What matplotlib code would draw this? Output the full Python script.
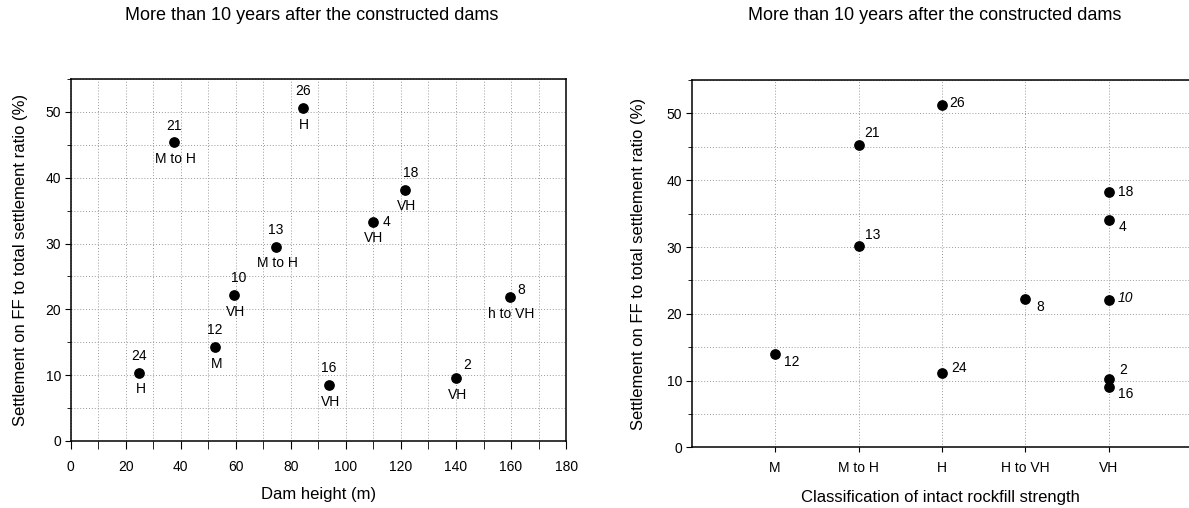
import matplotlib
matplotlib.use("Agg")
import matplotlib.pyplot as plt
from matplotlib.ticker import MultipleLocator

plt.rcParams['font.family'] = ['Liberation Sans', 'DejaVu Sans']

# left panel: dam height vs ratio
dam_ids = ["24", "21", "12", "10", "13", "26", "16", "4", "18", "2", "8"]
dam_height = [24.9, 37.4, 52.5, 59.5, 74.6, 84.3, 93.8, 109.7, 121.6, 140.0, 159.7]
ratio_left = [10.4, 45.4, 14.3, 22.2, 29.5, 50.6, 8.5, 33.3, 38.2, 9.5, 21.9]
strength_left = ["H", "M to H", "M", "VH", "M to H", "H", "VH", "VH", "VH", "VH", "h to VH"]

# right panel: strength class vs ratio
categories = ["M", "M to H", "H", "H to VH", "VH"]
right_ids = ["12", "21", "13", "26", "24", "8", "18", "4", "10", "2", "16"]
right_class = ["M", "M to H", "M to H", "H", "H", "H to VH", "VH", "VH", "VH", "VH", "VH"]
ratio_right = [14.05, 45.2, 30.1, 51.2, 11.2, 22.2, 38.2, 34.1, 22.1, 10.3, 9.1]

TITLE = "More than 10 years after the constructed dams"
YLABEL = "Settlement on FF to total settlement ratio (%)"

fig = plt.figure(figsize=(11.89, 5.08), dpi=100)
ax1 = fig.add_axes([0.0595, 0.1319, 0.4166, 0.7126])
ax2 = fig.add_axes([0.5817, 0.1191, 0.4183, 0.7234])

grid_kw = dict(color="#9a9a9a", linestyle=(0, (1, 2)), linewidth=0.7)

# ---- left panel
ax1.scatter(dam_height, ratio_left, s=45, color="black", zorder=3)
# number label offsets in points (dx, dy); class label sits below the point
num_off = {"4": (10, 0), "2": (8, 10), "8": (8, 5), "18": (4, 12), "10": (3, 12)}
for i, lab in enumerate(dam_ids):
    dx, dy = num_off.get(lab, (0, 12))
    ax1.annotate(lab, (dam_height[i], ratio_left[i]), xytext=(dx, dy),
                 textcoords="offset points", ha="center", va="center", fontsize=10)
    ax1.annotate(strength_left[i], (dam_height[i], ratio_left[i]), xytext=(1, -12),
                 textcoords="offset points", ha="center", va="center", fontsize=10)

ax1.set_xlim(0, 180)
ax1.set_ylim(0, 55)
ax1.xaxis.set_major_locator(MultipleLocator(20))
ax1.xaxis.set_minor_locator(MultipleLocator(10))
ax1.yaxis.set_major_locator(MultipleLocator(10))
ax1.yaxis.set_minor_locator(MultipleLocator(5))
ax1.grid(True, which="both", **grid_kw)
ax1.tick_params(axis="x", which="both", length=6, pad=8)
ax1.set_xlabel("Dam height (m)", fontsize=12, va="center")
ax1.xaxis.set_label_coords(0.5, -0.149)
ax1.set_ylabel(YLABEL, fontsize=12, va="center")
ax1.yaxis.set_label_coords(-0.102, 0.5)

# ---- right panel
xpos = [categories.index(c) + 1 for c in right_class]
ax2.scatter(xpos, ratio_right, s=45, color="black", zorder=3)
right_off = {"26": (11, 2), "21": (10, 9), "13": (10, 8), "12": (12, -6),
             "24": (12, 3), "8": (11, -6), "18": (12, 0), "4": (10, -5),
             "10": (12, 1), "2": (10, 6), "16": (12, -5)}
for i, lab in enumerate(right_ids):
    dx, dy = right_off[lab]
    style = "italic" if lab == "10" else "normal"
    ax2.annotate(lab, (xpos[i], ratio_right[i]), xytext=(dx, dy),
                 textcoords="offset points", ha="center", va="center",
                 fontsize=10, fontstyle=style)

ax2.set_xlim(0, 5.96)
ax2.set_ylim(0, 55)
ax2.set_xticks(range(1, len(categories) + 1))
ax2.set_xticklabels(categories)
ax2.yaxis.set_major_locator(MultipleLocator(10))
ax2.yaxis.set_minor_locator(MultipleLocator(5))
ax2.grid(True, which="both", **grid_kw)
ax2.tick_params(axis="x", which="both", length=3.5, pad=6)
ax2.set_xlabel("Classification of intact rockfill strength", fontsize=12, va="center")
ax2.xaxis.set_label_coords(0.5, -0.136)
ax2.set_ylabel(YLABEL, fontsize=12, va="center")
ax2.yaxis.set_label_coords(-0.106, 0.5)
ax2.spines["right"].set_visible(False)

for ax in (ax1, ax2):
    ax.tick_params(which="both", direction="out", labelsize=10)
    ax.tick_params(axis="y", which="major", length=4, width=0.8, pad=3)
    ax.tick_params(axis="y", which="minor", length=3, width=0.6)
    for sp in ax.spines.values():
        sp.set_linewidth(1.1)

# panel titles
fig.text(312 / 1189, 1 - 16 / 508, TITLE, ha="center", va="center", fontsize=13)
fig.text(935 / 1189, 1 - 16 / 508, TITLE, ha="center", va="center", fontsize=13)

fig.savefig("out.png", dpi=100)
